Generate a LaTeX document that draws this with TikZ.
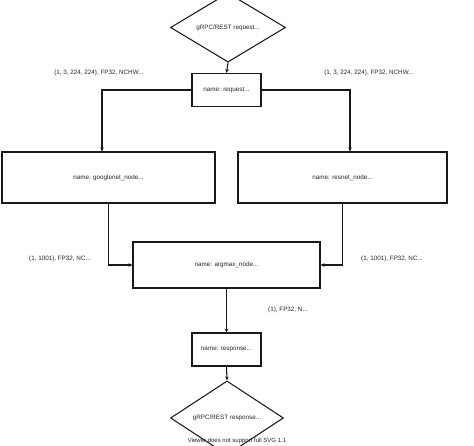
\documentclass[tikz,border=0pt]{standalone}
\usepackage{fontspec}
\setmainfont{Liberation Sans}
\usetikzlibrary{shapes.geometric,arrows.meta}
\begin{document}
\begin{tikzpicture}[x=1pt,y=-1pt,
  every node/.style={font=\fontsize{6.3}{7.5}\selectfont, text=black!85},
  box/.style={draw=black!90, line width=1.05pt, rectangle, inner sep=0pt},
  dia/.style={draw=black!90, line width=1.05pt, diamond, inner sep=0pt},
  conn/.style={draw=black!90, line width=1.05pt, -{Stealth[length=4pt,width=3.5pt]}},
  lbl/.style={inner sep=0pt}]
\useasboundingbox (0,0) rectangle (474,446);
\fill[white] (0,0) rectangle (474,446);
\node[dia, minimum width=115pt, minimum height=55pt] (d1) at (228,27.5) {gRPC/REST request...};
\node[box, minimum width=69pt, minimum height=33pt] (req) at (226.5,90) {name: request...};
\node[box, minimum width=213pt, minimum height=51pt] (google) at (108.5,177.5) {name: googlenet\_node...};
\node[box, minimum width=209pt, minimum height=51pt] (resnet) at (342.5,177.5) {name: resnet\_node...};
\node[box, minimum width=187pt, minimum height=46pt] (arg) at (226.5,265) {name: argmax\_node...};
\node[box, minimum width=69pt, minimum height=33pt] (resp) at (226.5,349.5) {name: response...};
\node[dia, minimum width=113pt, minimum height=58pt] (d2) at (227,418) {gRPC/REST response...};
\node[lbl] (l1) at (99,73) {(1, 3, 224, 224), FP32, NCHW...};
\node[lbl] (l2) at (369,73) {(1, 3, 224, 224), FP32, NCHW...};
\node[lbl] (l3) at (60,259) {(1, 1001), FP32, NC...};
\node[lbl] (l4) at (392,259) {(1, 1001), FP32, NC...};
\node[lbl] (l5) at (288,310) {(1), FP32, N...};
\node[lbl, font=\fontsize{6}{7}\selectfont] (vw) at (237,441) {Viewer does not support full SVG 1.1};
\draw[conn] (d1.south) -- (req.north);
\draw[conn] (req.west) -| ([xshift=-6.5pt]google.north);
\draw[conn] (req.east) -| ([xshift=7.5pt]resnet.north);
\draw[conn] (google.south) |- (arg.west);
\draw[conn] (resnet.south) |- (arg.east);
\draw[conn] (arg.south) -- (resp.north);
\draw[conn] (resp.south) -- (d2.north);
\end{tikzpicture}
\end{document}
